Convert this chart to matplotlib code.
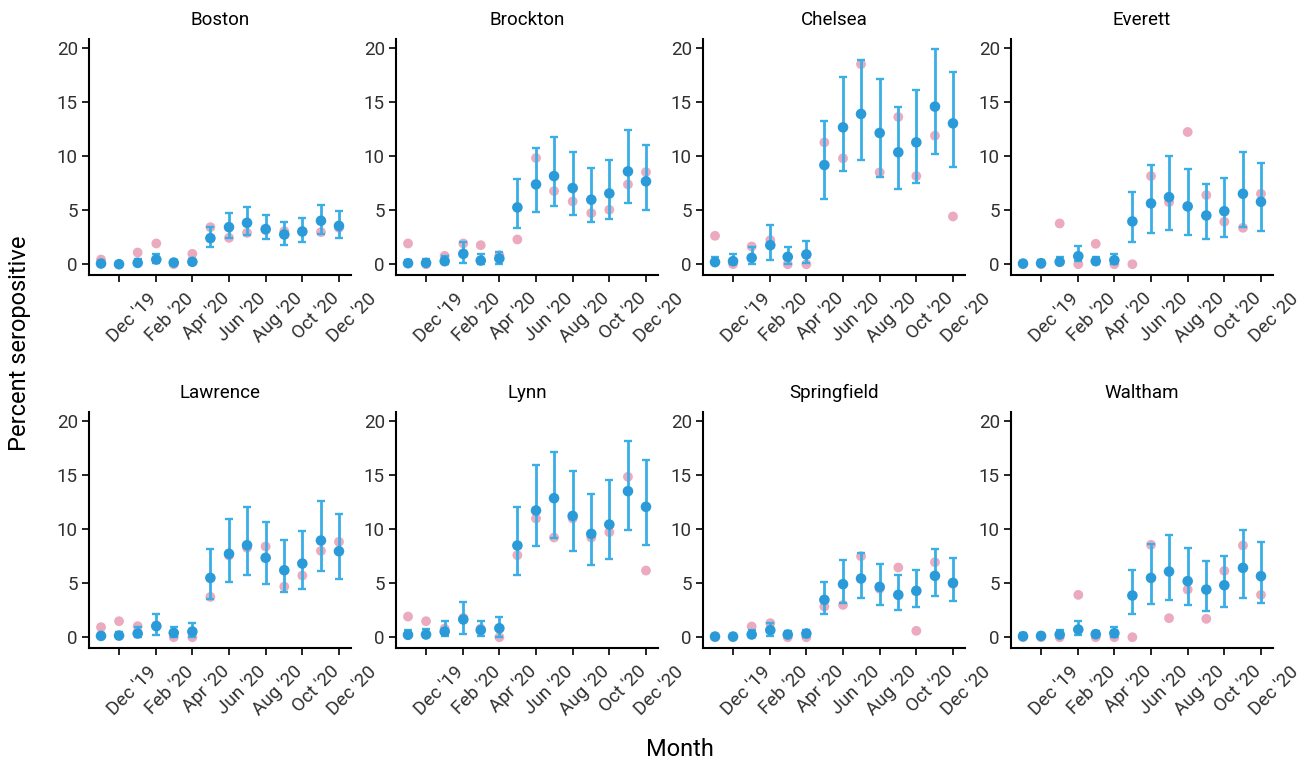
import numpy as np
import pandas as pd
import matplotlib
matplotlib.use("Agg")
import matplotlib.pyplot as plt
import matplotlib.dates as mdates
from matplotlib.transforms import ScaledTranslation

plt.rcParams['font.family'] = ['Roboto', 'DejaVu Sans']

months = ['2019-11-01', '2019-12-01', '2020-01-01', '2020-02-01', '2020-03-01', '2020-04-01',
          '2020-05-01', '2020-06-01', '2020-07-01', '2020-08-01', '2020-09-01', '2020-10-01',
          '2020-11-01', '2020-12-01']
tick_months = ['2019-12-01', '2020-02-01', '2020-04-01', '2020-06-01', '2020-08-01',
               '2020-10-01', '2020-12-01']

cities = ['Boston', 'Brockton', 'Chelsea', 'Everett', 'Lawrence', 'Lynn', 'Springfield', 'Waltham']

observed = {
    'Boston':      [0.43, 0.0, 1.08, 1.92, 0.0, 0.96, 3.43, 2.44, 2.9, 3.15, 3.06, 3.0, 2.97, 3.37],
    'Brockton':    [1.92, 0.0, 0.77, 1.92, 1.76, 0.83, 2.29, 9.83, 6.77, 5.81, 4.73, 5.04, 7.39, 8.53],
    'Chelsea':     [2.63, 0.0, 1.64, 2.23, 0.0, 0.0, 11.28, 9.8, 18.52, 8.5, 13.63, 8.16, 11.9, 4.42],
    'Everett':     [0.0, 0.0, 3.77, 0.0, 1.89, 0.0, 0.0, 8.16, 5.75, 12.24, 6.4, 3.93, 3.37, 6.52],
    'Lawrence':    [0.93, 1.48, 1.02, 1.1, 0.0, 0.0, 3.73, 7.56, 8.27, 8.4, 4.69, 5.71, 7.99, 8.83],
    'Lynn':        [1.91, 1.48, 0.8, 1.79, 0.8, 0.0, 7.59, 10.99, 9.23, 10.99, 9.23, 9.72, 14.85, 6.17],
    'Springfield': [0.0, 0.0, 0.99, 1.3, 0.0, 0.0, 2.84, 2.99, 7.5, 4.48, 6.45, 0.59, 6.94, 4.94],
    'Waltham':     [0.0, 0.0, 0.0, 3.92, 0.0, 0.0, 0.0, 8.55, 1.76, 4.41, 1.7, 6.14, 8.49, 3.92],
}
estimate = {
    'Boston':      [0.06, 0.0, 0.12, 0.43, 0.15, 0.22, 2.41, 3.43, 3.83, 3.25, 2.75, 3.03, 4.02, 3.55],
    'Brockton':    [0.09, 0.12, 0.28, 0.96, 0.34, 0.53, 5.26, 7.39, 8.16, 7.05, 5.97, 6.55, 8.59, 7.67],
    'Chelsea':     [0.19, 0.28, 0.59, 1.76, 0.68, 0.9, 9.18, 12.67, 13.91, 12.15, 10.36, 11.28, 14.59, 13.04],
    'Everett':     [0.06, 0.09, 0.22, 0.74, 0.28, 0.37, 3.96, 5.63, 6.21, 5.35, 4.51, 4.91, 6.52, 5.78],
    'Lawrence':    [0.12, 0.15, 0.34, 1.02, 0.4, 0.52, 5.49, 7.72, 8.52, 7.35, 6.2, 6.82, 8.95, 7.96],
    'Lynn':        [0.22, 0.25, 0.52, 1.64, 0.65, 0.83, 8.49, 11.73, 12.87, 11.23, 9.57, 10.43, 13.52, 12.07],
    'Springfield': [0.06, 0.06, 0.25, 0.65, 0.25, 0.34, 3.46, 4.91, 5.43, 4.66, 3.92, 4.29, 5.68, 5.03],
    'Waltham':     [0.09, 0.12, 0.25, 0.71, 0.28, 0.37, 3.86, 5.49, 6.08, 5.19, 4.41, 4.81, 6.42, 5.65],
}
lower = {
    'Boston':      [0.0, 0.0, 0.0, 0.1, 0.0, 0.05, 1.58, 2.38, 2.7, 2.3, 1.82, 2.1, 2.75, 2.47],
    'Brockton':    [0.0, 0.0, 0.06, 0.15, 0.06, 0.06, 3.31, 4.85, 5.41, 4.6, 3.89, 4.2, 5.69, 5.0],
    'Chelsea':     [0.0, 0.0, 0.06, 0.4, 0.06, 0.12, 6.06, 8.62, 9.68, 8.1, 6.92, 7.54, 10.2, 8.96],
    'Everett':     [0.0, 0.0, 0.0, 0.25, 0.0, 0.0, 2.04, 2.9, 3.2, 2.69, 2.29, 2.5, 3.43, 3.06],
    'Lawrence':    [0.0, 0.0, 0.0, 0.19, 0.0, 0.0, 3.58, 5.12, 5.8, 4.91, 4.2, 4.48, 6.11, 5.37],
    'Lynn':        [0.0, 0.0, 0.09, 0.34, 0.09, 0.0, 5.77, 8.4, 9.2, 7.96, 6.64, 7.25, 9.91, 8.55],
    'Springfield': [0.0, 0.0, 0.0, 0.15, 0.0, 0.0, 2.19, 3.21, 3.64, 3.02, 2.53, 2.84, 3.86, 3.36],
    'Waltham':     [0.0, 0.0, 0.0, 0.19, 0.0, 0.0, 2.13, 3.06, 3.43, 2.96, 2.47, 2.75, 3.64, 3.21],
}
upper = {
    'Boston':      [0.3, 0.2, 0.5, 0.9, 0.4, 0.5, 3.43, 4.76, 5.29, 4.54, 3.93, 4.24, 5.5, 4.95],
    'Brockton':    [0.4, 0.5, 0.77, 2.1, 0.99, 1.1, 7.91, 10.79, 11.8, 10.39, 8.9, 9.64, 12.4, 11.04],
    'Chelsea':     [0.71, 0.9, 1.6, 3.62, 1.6, 2.16, 13.29, 17.37, 18.95, 17.12, 14.59, 16.1, 19.97, 17.84],
    'Everett':     [0.3, 0.35, 0.71, 1.67, 0.65, 0.93, 6.65, 9.18, 10.0, 8.84, 7.42, 7.94, 10.39, 9.34],
    'Lawrence':    [0.4, 0.5, 0.96, 2.16, 0.96, 1.27, 8.18, 10.96, 12.04, 10.71, 9.01, 9.85, 12.65, 11.39],
    'Lynn':        [0.68, 0.8, 1.51, 3.3, 1.48, 1.91, 12.07, 15.96, 17.19, 15.4, 13.3, 14.51, 18.18, 16.45],
    'Springfield': [0.3, 0.3, 0.68, 1.36, 0.62, 0.71, 5.15, 7.13, 7.81, 6.82, 5.74, 6.23, 8.21, 7.35],
    'Waltham':     [0.35, 0.4, 0.65, 1.54, 0.62, 0.9, 6.2, 8.67, 9.48, 8.27, 7.04, 7.5, 9.91, 8.86],
}

yticks = [0, 5, 10, 15, 20]

dates = pd.to_datetime(months)
tdates = pd.to_datetime(tick_months)

W, H = 1305, 762
fig = plt.figure(figsize=(W / 100, H / 100), dpi=100)

lefts = [89, 396, 703, 1011]
tops = [39, 412]
aw, ah = 262, 236

pink = '#e58aa5'
blue_pt = '#2a9bd8'
blue_bar = '#3aafe6'
txt = '#303030'

label_shift = ScaledTranslation(28 / 100, -2 / 100, fig.dpi_scale_trans)

for i, city in enumerate(cities):
    r, c = divmod(i, 4)
    ax = fig.add_axes([lefts[c] / W, 1 - (tops[r] + ah) / H, aw / W, ah / H])
    est = np.array(estimate[city])
    lo = np.array(lower[city])
    hi = np.array(upper[city])
    ax.scatter(dates, observed[city], s=50, color=pink, alpha=0.72, edgecolors='none', zorder=2)
    ax.errorbar(dates, est, yerr=[est - lo, hi - est], fmt='none', ecolor=blue_bar,
                elinewidth=2.0, capsize=2.8, capthick=1.7, zorder=3)
    ax.scatter(dates, est, s=58, color=blue_pt, edgecolors='none', zorder=4)
    ax.set_ylim(-1.0, 20.85)
    ax.set_xlim(dates[0] - pd.Timedelta(days=20), dates[-1] + pd.Timedelta(days=20))
    ax.set_yticks(yticks)
    ax.set_xticks(tdates)
    ax.xaxis.set_major_formatter(mdates.DateFormatter("%b '%y"))
    ax.tick_params(axis='both', direction='out', length=5, width=1.2, color='black',
                   labelsize=13.5, labelcolor=txt)
    ax.tick_params(axis='x', pad=4)
    ax.tick_params(axis='y', pad=3)
    for lab in ax.get_xticklabels():
        lab.set_rotation(45)
        lab.set_ha('right')
        lab.set_va('top')
        lab.set_rotation_mode('anchor')
        lab.set_transform(lab.get_transform() + label_shift)
    ax.spines['top'].set_visible(False)
    ax.spines['right'].set_visible(False)
    for s in ('left', 'bottom'):
        ax.spines[s].set_linewidth(1.5)
        ax.spines[s].set_color('black')
    ax.set_facecolor('white')
    ax.set_title(city, fontsize=13.5, color='black', pad=10)

fig.text(680 / W, 1 - 750 / H, 'Month', ha='center', va='center', fontsize=17, color='black')
fig.text(20 / W, 1 - 343 / H, 'Percent seropositive', ha='center', va='center',
         rotation=90, fontsize=17, color='black')

fig.savefig('out.png', dpi=100, facecolor='white')
